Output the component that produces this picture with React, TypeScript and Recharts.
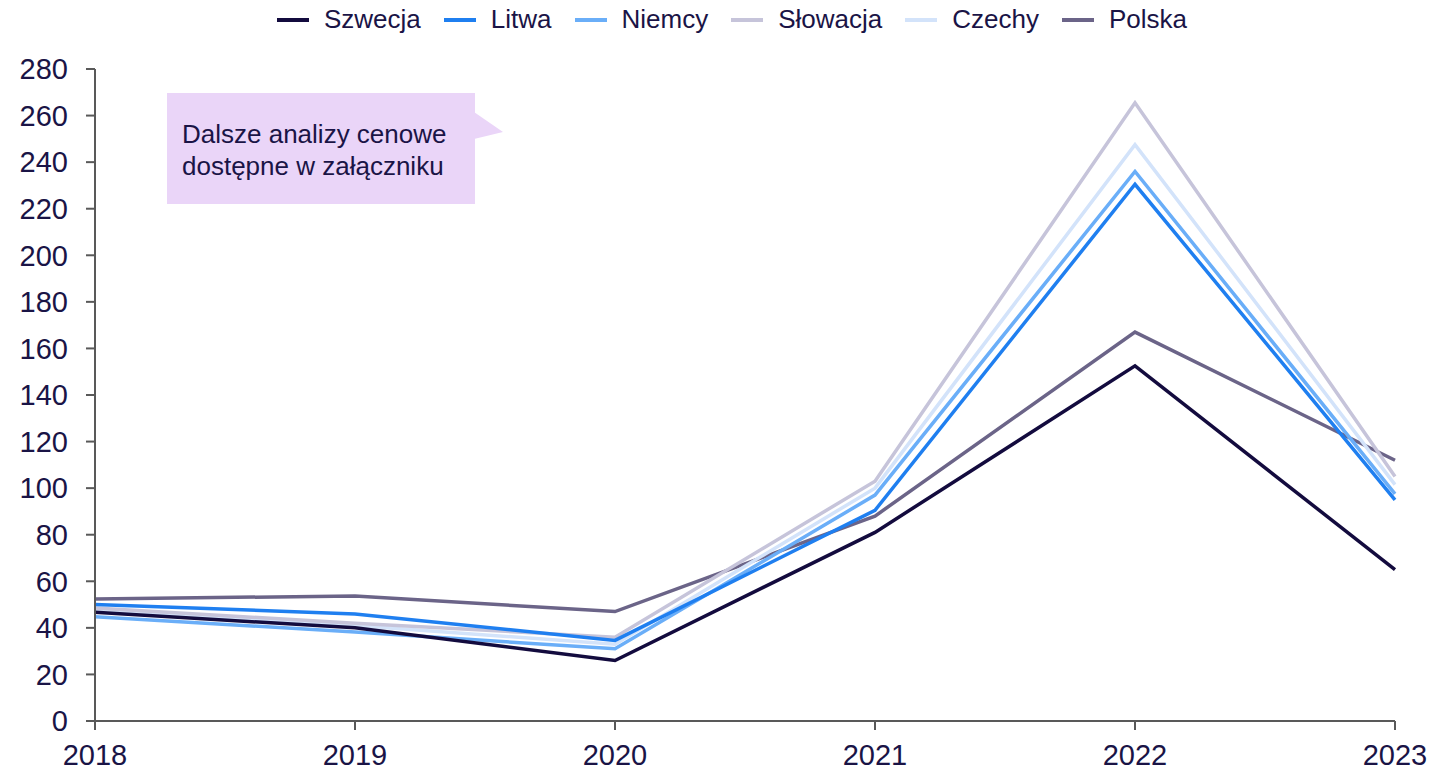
import React from 'react';
import { CartesianGrid, Line, LineChart, XAxis, YAxis } from 'recharts';

const lata = ['2018', '2019', '2020', '2021', '2022', '2023'];

const szwecja = [46.7, 40, 26, 81, 152.5, 65];
const litwa = [50, 46, 34.6, 90.5, 230.5, 95];
const niemcy = [44.8, 38.2, 31, 97, 236, 97.5];
const slowacja = [48.5, 42, 36, 103, 265.5, 105];
const czechy = [48, 41, 33, 100, 247.5, 101.5];
const polska = [52.4, 53.7, 47, 88, 167, 112];

const yTicki = [0, 20, 40, 60, 80, 100, 120, 140, 160, 180, 200, 220, 240, 260, 280];

const serie = [
  { klucz: 'szwecja', nazwa: 'Szwecja', kolor: '#130b3e', wartosci: szwecja },
  { klucz: 'litwa', nazwa: 'Litwa', kolor: '#1f7ff0', wartosci: litwa },
  { klucz: 'niemcy', nazwa: 'Niemcy', kolor: '#6aaef8', wartosci: niemcy },
  { klucz: 'slowacja', nazwa: 'Słowacja', kolor: '#c6c4da', wartosci: slowacja },
  { klucz: 'czechy', nazwa: 'Czechy', kolor: '#d3e3fa', wartosci: czechy },
  { klucz: 'polska', nazwa: 'Polska', kolor: '#6b6488', wartosci: polska },
];

const dane = lata.map((rok, i) => {
  const wiersz: Record<string, string | number> = { rok };
  serie.forEach((s) => {
    wiersz[s.klucz] = s.wartosci[i];
  });
  return wiersz;
});

const czcionka = '"Liberation Sans", Arial, sans-serif';
const tekst = '#1a1446';
const os = '#595959';

function Legenda() {
  return (
    <div
      style={{
        position: 'absolute',
        top: 4,
        left: 0,
        width: 1434,
        display: 'flex',
        justifyContent: 'center',
        paddingLeft: 30,
        boxSizing: 'border-box',
        fontFamily: czcionka,
        fontSize: 26,
        color: tekst,
      }}
    >
      {serie.map((s, i) => (
        <div
          key={s.klucz}
          style={{ display: 'flex', alignItems: 'center', marginLeft: i === 0 ? 0 : 23 }}
        >
          <span
            style={{ width: 32, height: 4, background: s.kolor, display: 'inline-block', marginRight: 15 }}
          />
          <span>{s.nazwa}</span>
        </div>
      ))}
    </div>
  );
}

function Adnotacja() {
  return (
    <svg
      width={520}
      height={220}
      style={{ position: 'absolute', left: 0, top: 0, pointerEvents: 'none' }}
    >
      <rect x={167} y={93} width={308} height={111} fill="#ead5f8" />
      <polygon points="474,112 503,132 474,139" fill="#ead5f8" />
      <text x={182} y={143} fontFamily={czcionka} fontSize={26} fill={tekst}>
        Dalsze analizy cenowe
      </text>
      <text x={182} y={175} fontFamily={czcionka} fontSize={26} fill={tekst}>
        dostępne w załączniku
      </text>
    </svg>
  );
}

export default function App() {
  return (
    <div style={{ position: 'absolute', left: 0, top: 0, width: 1434, height: 774, background: '#fff' }}>
      <LineChart
        width={1434}
        height={774}
        data={dane}
        margin={{ top: 69, right: 39, left: 0, bottom: 0 }}
      >
        <CartesianGrid stroke="none" />
        <XAxis
          dataKey="rok"
          height={53}
          tick={{ fill: tekst, fontSize: 29, fontFamily: czcionka }}
          tickSize={9}
          tickMargin={14}
          axisLine={{ stroke: os, strokeWidth: 2 }}
          tickLine={{ stroke: os, strokeWidth: 2 }}
          interval={0}
        />
        <YAxis
          width={95}
          domain={[0, 280]}
          ticks={yTicki}
          interval={0}
          tick={{ fill: tekst, fontSize: 29, fontFamily: czcionka }}
          tickSize={9}
          tickMargin={18}
          axisLine={{ stroke: os, strokeWidth: 2 }}
          tickLine={{ stroke: os, strokeWidth: 2 }}
        />
        {[...serie].reverse().map((s) => (
          <Line
            key={s.klucz}
            type="linear"
            dataKey={s.klucz}
            name={s.nazwa}
            stroke={s.kolor}
            strokeWidth={3.5}
            dot={false}
            activeDot={false}
            isAnimationActive={false}
          />
        ))}
      </LineChart>
      <Legenda />
      <Adnotacja />
    </div>
  );
}
